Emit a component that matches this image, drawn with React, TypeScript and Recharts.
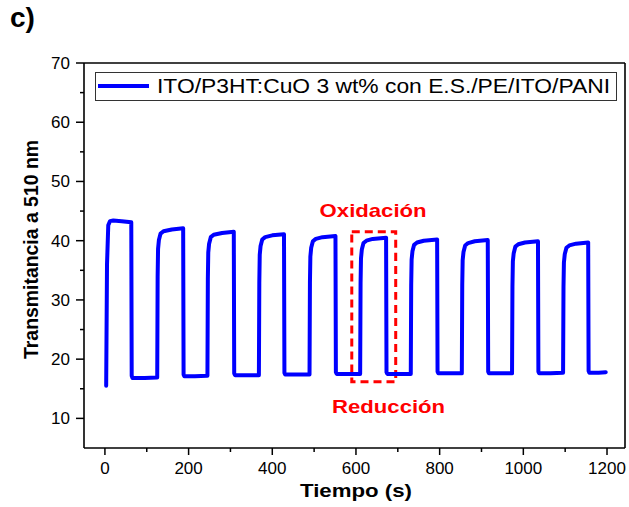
import React from 'react';
import { LineChart, Line, XAxis, YAxis, ReferenceArea, ReferenceDot, Legend } from 'recharts';

// Time (s) and transmittance (%)
const timeS = [
  3, 5, 8, 12, 20, 40, 63,
  64, 66, 95, 124,
  125, 126, 127, 129, 133, 140, 160, 187,
  188, 190, 215, 244,
  245, 246, 247, 249, 253, 260, 280, 308,
  309, 311, 340, 367,
  368, 369, 370, 372, 376, 383, 400, 428,
  429, 431, 460, 488,
  489, 490, 491, 493, 497, 504, 520, 551,
  552, 554, 580, 609,
  610, 611, 612, 614, 618, 625, 640, 672,
  673, 675, 700, 730,
  731, 732, 733, 735, 739, 746, 762, 794,
  795, 797, 825, 852,
  853, 854, 855, 857, 861, 868, 884, 915,
  916, 918, 945, 972,
  973, 974, 975, 977, 981, 988, 1004, 1035,
  1036, 1038, 1065, 1094,
  1095, 1096, 1097, 1099, 1103, 1110, 1126, 1155,
  1156, 1158, 1180, 1197,
];

const transmittance = [
  15.5, 36.0, 42.6, 43.3, 43.4, 43.3, 43.1,
  17.2, 16.8, 16.8, 16.9,
  16.9, 34.0, 38.6, 40.1, 41.2, 41.6, 41.9, 42.1,
  17.4, 17.1, 17.1, 17.2,
  17.2, 33.5, 38.0, 39.5, 40.6, 41.0, 41.3, 41.5,
  17.6, 17.3, 17.3, 17.3,
  17.3, 33.0, 37.6, 39.1, 40.2, 40.6, 40.9, 41.1,
  17.7, 17.4, 17.4, 17.4,
  17.4, 33.0, 37.3, 38.8, 39.9, 40.3, 40.6, 40.8,
  17.8, 17.5, 17.5, 17.5,
  17.5, 32.8, 37.0, 38.5, 39.6, 40.0, 40.3, 40.5,
  17.8, 17.5, 17.5, 17.5,
  17.5, 32.5, 36.8, 38.2, 39.3, 39.7, 40.0, 40.2,
  17.9, 17.6, 17.6, 17.6,
  17.6, 32.5, 36.7, 38.1, 39.2, 39.6, 39.9, 40.1,
  17.9, 17.6, 17.6, 17.6,
  17.6, 32.3, 36.5, 37.9, 39.0, 39.4, 39.7, 39.9,
  17.9, 17.6, 17.6, 17.7,
  17.7, 32.2, 36.3, 37.7, 38.8, 39.2, 39.5, 39.7,
  18.0, 17.7, 17.7, 17.8,
];

const xTicks = [0, 100, 200, 300, 400, 500, 600, 700, 800, 900, 1000, 1100, 1200];
const yTicks = [10, 15, 20, 25, 30, 35, 40, 45, 50, 55, 60, 65, 70];
const xDomain = [-50, 1243];
const yDomain = [5, 70];

const seriesName = 'ITO/P3HT:CuO 3 wt% con E.S./PE/ITO/PANI';
const xTitle = 'Tiempo (s)';
const yTitle = 'Transmitancia a 510 nm';
const panelLabel = 'c)';
const oxLabel = 'Oxidación';
const redLabel = 'Reducción';
// highlighted box (t from, t to, T low, T high)
const boxT = [590, 695];
const boxV = [16.2, 41.5];
const oxPos = { t: 641, v: 44.05 };
const redPos = { t: 678, v: 10.85 };

const data = timeS.map((t, i) => ({ t, v: transmittance[i] }));

const FONT = "'Liberation Sans', Arial, sans-serif";

const XTick = (props: any) => {
  const { x, y, payload } = props;
  const major = payload.value % 200 === 0;
  return (
    <g>
      <line x1={x} x2={x} y1={y} y2={y + (major ? 7 : 4)} stroke="#000" strokeWidth={1.5} />
      {major && (
        <text x={x} y={y + 26} textAnchor="middle" fontSize={17} fontFamily={FONT} fill="#000">
          {payload.value}
        </text>
      )}
    </g>
  );
};

const YTick = (props: any) => {
  const { x, y, payload } = props;
  const major = payload.value % 10 === 0;
  return (
    <g>
      <line x1={x - (major ? 8 : 4)} x2={x} y1={y} y2={y} stroke="#000" strokeWidth={1.5} />
      {major && (
        <text x={x - 14} y={y + 6} textAnchor="end" fontSize={17} fontFamily={FONT} fill="#000">
          {payload.value}
        </text>
      )}
    </g>
  );
};

const XTitle = (props: any) => {
  const vb = props.viewBox;
  return (
    <text x={vb.x + vb.width / 2 + 1.5} y={vb.y + 48.7} textAnchor="middle" fontSize={19} fontWeight="bold"
      fontFamily={FONT} fill="#000" textLength={112} lengthAdjust="spacingAndGlyphs">{xTitle}</text>
  );
};

const YTitle = (props: any) => {
  const vb = props.viewBox;
  const cx = vb.x + vb.width - 46;
  const cy = vb.y + vb.height / 2 - 6;
  return (
    <text x={cx} y={cy} transform={`rotate(-90 ${cx} ${cy})`} textAnchor="middle" fontSize={20} fontWeight="bold"
      fontFamily={FONT} fill="#000" textLength={219} lengthAdjust="spacingAndGlyphs">{yTitle}</text>
  );
};

const annot = (txt: string, len: number) => (props: any) => {
  const vb = props.viewBox;
  return (
    <text x={vb.x + (vb.width || 0) / 2} y={vb.y + (vb.height || 0) / 2} textAnchor="middle" fontSize={19}
      fontWeight="bold" fontFamily={FONT} fill="#ff0000" textLength={len} lengthAdjust="spacingAndGlyphs">{txt}</text>
  );
};

const LegendBox = () => (
  <svg width={523} height={30} style={{ display: 'block' }}>
    <rect x={0.5} y={0.5} width={521} height={28} fill="#fff" stroke="#333" strokeWidth={1} />
    <line x1={3} x2={54} y1={14} y2={14} stroke="#0000ff" strokeWidth={4} />
    <text x={62} y={21} fontSize={20} fontFamily={FONT} fill="#000" textLength={453} lengthAdjust="spacingAndGlyphs">
      {seriesName}
    </text>
  </svg>
);

export default function App() {
  return (
    <div style={{ position: 'absolute', left: 0, top: 0, width: 629, height: 507, background: '#fff' }}>
      <div style={{ position: 'absolute', left: 10, top: -2, fontFamily: FONT, fontWeight: 'bold', fontSize: 28, lineHeight: '40px', color: '#000', zIndex: 2 }}>
        {panelLabel}
      </div>
      <LineChart width={629} height={507} data={data} margin={{ top: 62, right: 3, bottom: 58, left: 83 }}>
        <XAxis xAxisId="top" orientation="top" type="number" dataKey="t" domain={xDomain} allowDataOverflow
          height={1} tick={false} tickLine={false} axisLine={{ stroke: '#000', strokeWidth: 1.6 }} />
        <YAxis yAxisId="right" orientation="right" type="number" domain={yDomain} allowDataOverflow
          width={1} tick={false} tickLine={false} axisLine={{ stroke: '#000', strokeWidth: 1.6 }} />
        <XAxis type="number" dataKey="t" domain={xDomain} allowDataOverflow ticks={xTicks} interval={0}
          height={1} tickSize={0} tickMargin={0} tickLine={false} tick={<XTick />}
          axisLine={{ stroke: '#000', strokeWidth: 1.6 }} label={<XTitle />} />
        <YAxis type="number" domain={yDomain} allowDataOverflow ticks={yTicks} interval={0}
          width={1} tickSize={0} tickMargin={0} tickLine={false} tick={<YTick />}
          axisLine={{ stroke: '#000', strokeWidth: 1.6 }} label={<YTitle />} />
        <Legend layout="horizontal" verticalAlign="middle" align="center" content={<LegendBox />}
          wrapperStyle={{ position: 'absolute', left: 95, top: 72, width: 523, height: 30 }} />
        <Line type="linear" dataKey="v" name={seriesName} stroke="#0000ff" strokeWidth={4} dot={false}
          strokeLinejoin="round" strokeLinecap="round" isAnimationActive={false} />
        <ReferenceArea x1={boxT[0]} x2={boxT[1]} y1={boxV[0]} y2={boxV[1]} fill="none" fillOpacity={0}
          stroke="#ff0000" strokeWidth={3} strokeDasharray="8 5" ifOverflow="visible" />
        <ReferenceDot x={oxPos.t} y={oxPos.v} r={0} fill="none" stroke="none" ifOverflow="visible" label={annot(oxLabel, 107)} />
        <ReferenceDot x={redPos.t} y={redPos.v} r={0} fill="none" stroke="none" ifOverflow="visible" label={annot(redLabel, 113)} />
      </LineChart>
    </div>
  );
}
